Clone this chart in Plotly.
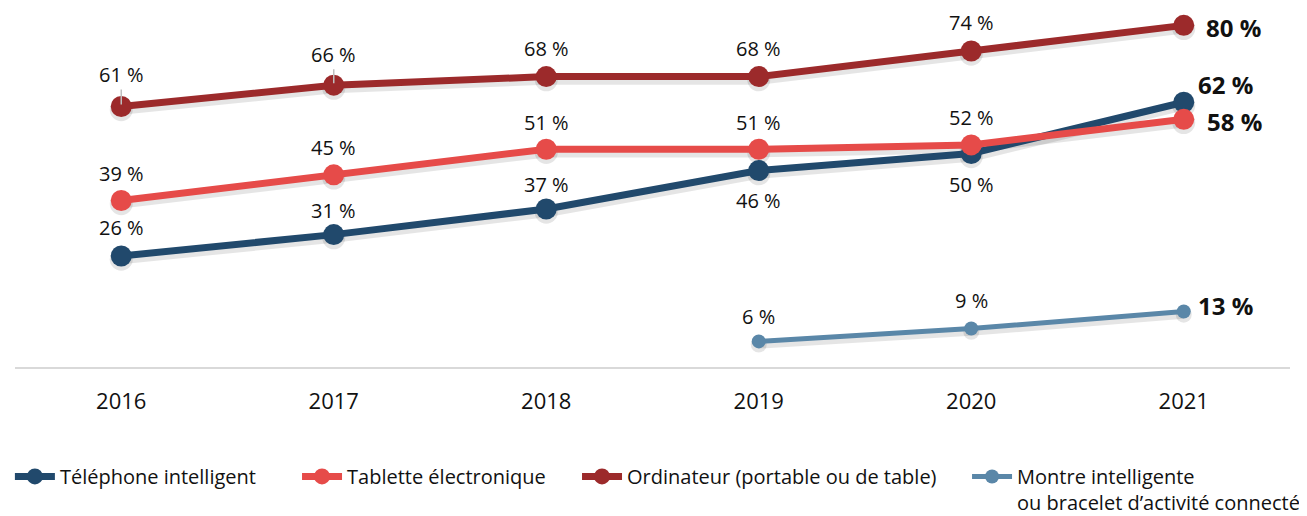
import plotly.graph_objects as go

years = ["2016", "2017", "2018", "2019", "2020", "2021"]
telephone = [26, 31, 37, 46, 50, 62]
tablette = [39, 45, 51, 51, 52, 58]
ordinateur = [61, 66, 68, 68, 74, 80]
montre = [None, None, None, 6, 9, 13]

names = ["Téléphone intelligent", "Tablette électronique",
         "Ordinateur (portable ou de table)",
         "Montre intelligente<br>ou bracelet d’activité connecté"]

FONT = "Open Sans"
colors = ["#21496C", "#E64B49", "#9C2A2B", "#5A87A8"]
widths = [7, 7, 7, 5]
msizes = [21, 21, 21, 14]

# label offsets (xshift, yshift) per series per point
shifts = [
    [(0, 28), (0, 24), (0, 25), (0, -30), (0, -31), (42, 18)],
    [(0, 27), (0, 27), (0, 27), (0, 27), (0, 27), (51, -2)],
    [(0, 32), (0, 31), (0, 28), (0, 28), (0, 29), (50, -2)],
    [None, None, None, (0, 25), (0, 28), (42, 6)],
]
# leader lines (Excel-style) for moved labels
leaders = [(2, 0), (2, 1)]

# legend entry left positions (paper x)
legend_x = [-0.004, 0.2212, 0.4408, 0.7467]

series = [telephone, tablette, ordinateur, montre]
YMAX = 83.6
SHADOW = 0.75

fig = go.Figure()
# soft shadows (base subplot, y-range shifted)
for i, vals in enumerate(series):
    fig.add_trace(go.Scatter(
        x=list(range(len(years))), y=vals, mode="lines+markers",
        line=dict(color="rgba(0,0,0,0.10)", width=widths[i] + 3),
        marker=dict(color="rgba(0,0,0,0.10)", size=msizes[i] + 2),
        showlegend=False, hoverinfo="skip", xaxis="x", yaxis="y",
    ))
for i, vals in enumerate(series):
    fig.add_trace(go.Scatter(
        x=list(range(len(years))), y=vals, name=names[i], mode="lines+markers",
        line=dict(color=colors[i], width=widths[i]),
        marker=dict(color=colors[i], size=msizes[i]),
        connectgaps=False, xaxis="x", yaxis="y2",
        legend="legend" if i == 0 else f"legend{i + 1}",
    ))

annotations = []
for i, vals in enumerate(series):
    for j, v in enumerate(vals):
        if v is None:
            continue
        xs, ys = shifts[i][j]
        last = j == len(vals) - 1
        ann = dict(
            x=j, y=v, xref="x", yref="y2",
            text=(f"<b>{v} %</b>" if last else f"{v} %"),
            font=dict(family=FONT, size=24 if last else 20, color="#111111"),
        )
        if (i, j) in leaders:
            ann.update(showarrow=True, ax=xs, ay=-ys, arrowhead=0,
                       arrowwidth=1.5, arrowcolor="#BFBFBF", standoff=2)
        else:
            ann.update(showarrow=False, xshift=xs, yshift=ys)
        annotations.append(ann)

legend_style = dict(orientation="h", xanchor="left", y=-0.252, yanchor="top",
                    font=dict(family=FONT, size=20, color="#111111"),
                    valign="top", itemwidth=40, bgcolor="rgba(0,0,0,0)")

layout_legends = {}
for i, lx in enumerate(legend_x):
    key = "legend" if i == 0 else f"legend{i + 1}"
    layout_legends[key] = dict(legend_style, x=lx)

fig.update_layout(
    width=1307, height=516,
    margin=dict(l=7, r=25, t=2, b=157, autoexpand=False),
    paper_bgcolor="white", plot_bgcolor="white",
    font=dict(family=FONT, color="#111111"),
    annotations=annotations,
    showlegend=True,
    xaxis=dict(range=[-0.5, 5.5], showgrid=False,
               tickmode="array", tickvals=list(range(len(years))), ticktext=years,
               showline=True, linecolor="#D9D9D9", linewidth=2,
               ticks="", ticklabelstandoff=14,
               tickfont=dict(family=FONT, size=22, color="#111111"),
               zeroline=False),
    yaxis=dict(range=[SHADOW, YMAX + SHADOW], showgrid=False, showticklabels=False,
               zeroline=False, showline=False, ticks=""),
    yaxis2=dict(range=[0, YMAX], overlaying="y", showgrid=False, showticklabels=False,
                zeroline=False, showline=False, ticks=""),
    **layout_legends,
)

fig.write_html("out.html")
